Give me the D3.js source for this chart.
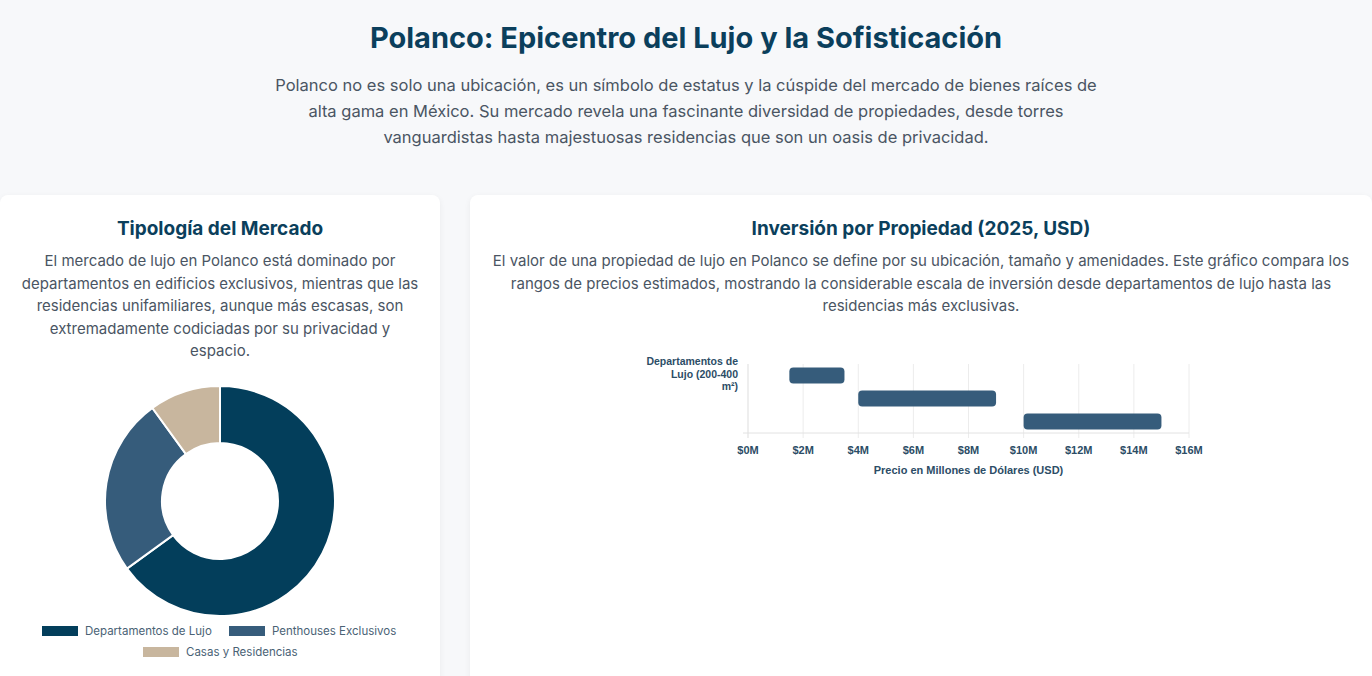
<html>
<head>
<meta charset="UTF-8">
<script src="https://d3js.org/d3.v7.min.js"></script>
<style>
  body { margin:0; background:#f7f8fa; font-family:Inter, "Open Sans", sans-serif; color:#4a5563; width:1372px; height:676px; overflow:hidden; position:relative; }
  h1 { position:absolute; top:20px; left:0; width:1372px; text-align:center; margin:0; font-size:29px; font-weight:700; color:#0b3f5c; }
  .lead { position:absolute; top:72px; left:266px; width:840px; text-align:center; font-size:16.5px; line-height:26px; color:#4a5563; margin:0; }
  .card { position:absolute; top:195px; background:#fff; border-radius:8px; box-shadow:0 2px 6px rgba(0,0,0,0.06); height:520px; }
  .card h2 { text-align:center; margin:22px 0 0; font-size:19px; font-weight:700; color:#0b3f5c; }
  .card p { text-align:center; margin:10px auto 0; font-size:15px; line-height:22.5px; color:#4a5563; }
  svg { position:absolute; left:0; top:0; }
</style>
</head>
<body>
<h1>Polanco: Epicentro del Lujo y la Sofisticación</h1>
<p class="lead">Polanco no es solo una ubicación, es un símbolo de estatus y la cúspide del mercado de bienes raíces de alta gama en México. Su mercado revela una fascinante diversidad de propiedades, desde torres vanguardistas hasta majestuosas residencias que son un oasis de privacidad.</p>
<div class="card" style="left:0;width:440px">
  <h2>Tipología del Mercado</h2>
  <p style="width:400px">El mercado de lujo en Polanco está dominado por departamentos en edificios exclusivos, mientras que las residencias unifamiliares, aunque más escasas, son extremadamente codiciadas por su privacidad y espacio.</p>
</div>
<div class="card" style="left:470px;width:902px">
  <h2>Inversión por Propiedad (2025, USD)</h2>
  <p style="width:870px">El valor de una propiedad de lujo en Polanco se define por su ubicación, tamaño y amenidades. Este gráfico compara los rangos de precios estimados, mostrando la considerable escala de inversión desde departamentos de lujo hasta las residencias más exclusivas.</p>
</div>
<svg id="chart" width="1372" height="676"></svg>
<script>
var typeLabels = ["Departamentos de Lujo", "Penthouses Exclusivos", "Casas y Residencias"];
var typeShares = [65, 25, 10];
var typeColors = ["#033e5b", "#365c7b", "#c8b69e"];

var priceLabels = ["Departamentos de Lujo (200-400 m²)", "Penthouses (400-800 m²)", "Residencias (800+ m²)"];
var priceMin = [1.5, 4, 10];
var priceMax = [3.5, 9, 15];
var priceTicks = [0, 2, 4, 6, 8, 10, 12, 14, 16];

var svg = d3.select("#chart");

// donut
var pie = d3.pie().sort(null)(typeShares);
var arc = d3.arc().innerRadius(58).outerRadius(115);
var g = svg.append("g").attr("transform", "translate(220,501)");
g.selectAll("path").data(pie).enter().append("path")
  .attr("d", arc).attr("fill", function(d, i) { return typeColors[i]; })
  .attr("stroke", "#fff").attr("stroke-width", 2);

var legPos = [[42, 631], [229, 631], [143, 652]];
var leg = svg.selectAll(".leg").data(typeLabels).enter().append("g")
  .attr("transform", function(d, i) { return "translate(" + legPos[i][0] + "," + legPos[i][1] + ")"; });
leg.append("rect").attr("x", 0).attr("y", -5).attr("width", 36).attr("height", 10)
  .attr("fill", function(d, i) { return typeColors[i]; });
leg.append("text").attr("x", 43).attr("y", 4).text(function(d) { return d; })
  .attr("font-size", 11.5).attr("fill", "#4a6275").attr("font-family", "Inter, sans-serif");

// range bars
var x = d3.scaleLinear().domain([0, 16]).range([748, 1189]);
var y = d3.scaleBand().domain(priceLabels).range([364, 433]).paddingInner(0.3).paddingOuter(0.15);
var ax = svg.append("g").attr("font-family", "Liberation Sans, Arial, sans-serif");
ax.selectAll(".grid").data(priceTicks).enter().append("line")
  .attr("x1", function(d) { return x(d); }).attr("x2", function(d) { return x(d); })
  .attr("y1", 364).attr("y2", 438).attr("stroke", function(d) { return d === 0 ? "#ddd" : "#ececec"; });
ax.append("line").attr("x1", 743).attr("x2", 1189).attr("y1", 433).attr("y2", 433).attr("stroke", "#e2e2e2");
ax.selectAll(".tk").data(priceTicks).enter().append("text")
  .attr("x", function(d) { return x(d); }).attr("y", 454).attr("text-anchor", "middle")
  .attr("font-size", 11).attr("fill", "#2c4d66").attr("font-weight", "bold")
  .text(function(d) { return "$" + d + "M"; });
ax.append("text").attr("x", x(8)).attr("y", 474).attr("text-anchor", "middle")
  .attr("font-size", 11).attr("font-weight", "bold").attr("fill", "#2c4d66")
  .text("Precio en Millones de Dólares (USD)");
ax.selectAll(".bar").data(priceLabels).enter().append("rect")
  .attr("x", function(d, i) { return x(priceMin[i]); })
  .attr("width", function(d, i) { return x(priceMax[i]) - x(priceMin[i]); })
  .attr("y", function(d) { return y(d); }).attr("height", y.bandwidth())
  .attr("rx", 4).attr("fill", "#365c7b");
// only first category label fits
var lbl = ["Departamentos de", "Lujo (200-400", "m²)"];
ax.append("text").attr("text-anchor", "end").attr("font-size", 10.5).attr("font-weight", "bold")
  .attr("fill", "#2c4d66")
  .selectAll("tspan").data(lbl).enter().append("tspan")
  .attr("x", 738).attr("y", function(d, i) { return 365 + i * 12.5; }).text(function(d) { return d; });
</script>
</body>
</html>
